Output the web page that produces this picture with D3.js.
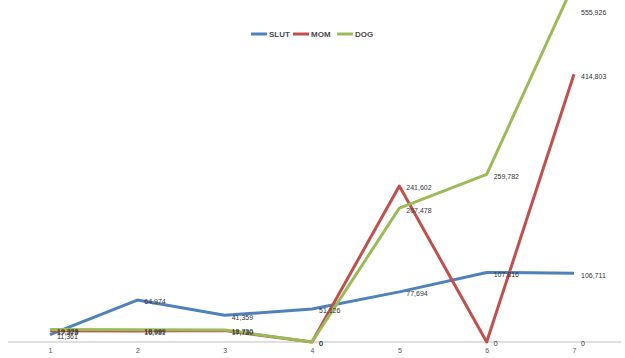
<!DOCTYPE html>
<html>
<head>
<meta charset="utf-8">
<script src="https://cdn.jsdelivr.net/npm/d3@7"></script>
<style>
html,body{margin:0;padding:0;background:#fff;}
svg{display:block;}
</style>
</head>
<body>
<svg id="chart" width="625" height="358"></svg>
<script>
const categories = [1, 2, 3, 4, 5, 6, 7];
const seriesNames = ["SLUT", "MOM", "DOG"];
const slutValues = [11361, 64974, 41359, 51126, 77694, 107816, 106711];
const momValues  = [17373, 16981, 17730, 0, 241602, 0, 414803];
const dogValues  = [19328, 18999, 18730, 0, 207478, 259782, 555926];
const colors = ["#4F81BD", "#C0504D", "#9BBB59"];
const extraLabels = [{cat: 7, value: 0}];

const svg = d3.select("#chart");
const x = d3.scaleLinear().domain([1, 7]).range([50, 574]);
const y = d3.scaleLinear().domain([0, 530000]).range([342, 0]);

const series = [slutValues, momValues, dogValues].map((vals, i) => ({
  name: seriesNames[i], color: colors[i],
  points: categories.map((c, j) => ({cat: c, value: vals[j]}))
}));

// axis
const xAxis = d3.axisBottom(x).tickValues(categories).tickSize(0).tickPadding(6).tickFormat(d3.format("d"));
const ax = svg.append("g").attr("transform", `translate(0,${y(0)})`).call(xAxis);
ax.select(".domain").remove();
ax.append("line").attr("x1", 8).attr("x2", 621).attr("y1", 0).attr("y2", 0)
  .attr("stroke", "#bfbfbf").attr("stroke-width", 1);
ax.selectAll("text").attr("font-family", "Liberation Sans, Arial, sans-serif")
  .attr("font-size", 7).attr("fill", "#555");

const line = d3.line().x(d => x(d.cat)).y(d => y(d.value));

const plot = svg.append("g");
series.forEach(s => {
  plot.append("path").datum(s.points)
    .attr("d", line).attr("fill", "none")
    .attr("stroke", s.color).attr("stroke-width", 3)
    .attr("stroke-linejoin", "round");
});

const fmt = d3.format(",");
const labels = svg.append("g").attr("font-family", "Liberation Sans, Arial, sans-serif")
  .attr("font-size", 7).attr("fill", "#333");
series.forEach(s => {
  labels.selectAll(null).data(s.points).enter().append("text")
    .attr("x", d => x(d.cat) + 7)
    .attr("y", d => Math.max(y(d.value), 11) + 3)
    .attr("dy", "0.2em")
    .text(d => fmt(d.value));
});
labels.selectAll(null).data(extraLabels).enter().append("text")
  .attr("x", d => x(d.cat) + 7).attr("y", d => y(d.value) + 3).attr("dy", "0.2em")
  .text(d => fmt(d.value));

// legend
const legendItems = [
  {name: seriesNames[0], color: colors[0], x: 251},
  {name: seriesNames[1], color: colors[1], x: 293},
  {name: seriesNames[2], color: colors[2], x: 337}
];
const lg = svg.append("g").attr("transform", "translate(0,34)");
legendItems.forEach(it => {
  lg.append("line").attr("x1", it.x).attr("x2", it.x + 16).attr("y1", 0).attr("y2", 0)
    .attr("stroke", it.color).attr("stroke-width", 3);
  lg.append("text").attr("x", it.x + 18).attr("y", 0).attr("dy", "0.35em")
    .attr("font-family", "Liberation Sans, Arial, sans-serif").attr("font-size", 8)
    .attr("font-weight", "bold").attr("fill", "#4a4a4a").text(it.name);
});
</script>
</body>
</html>
